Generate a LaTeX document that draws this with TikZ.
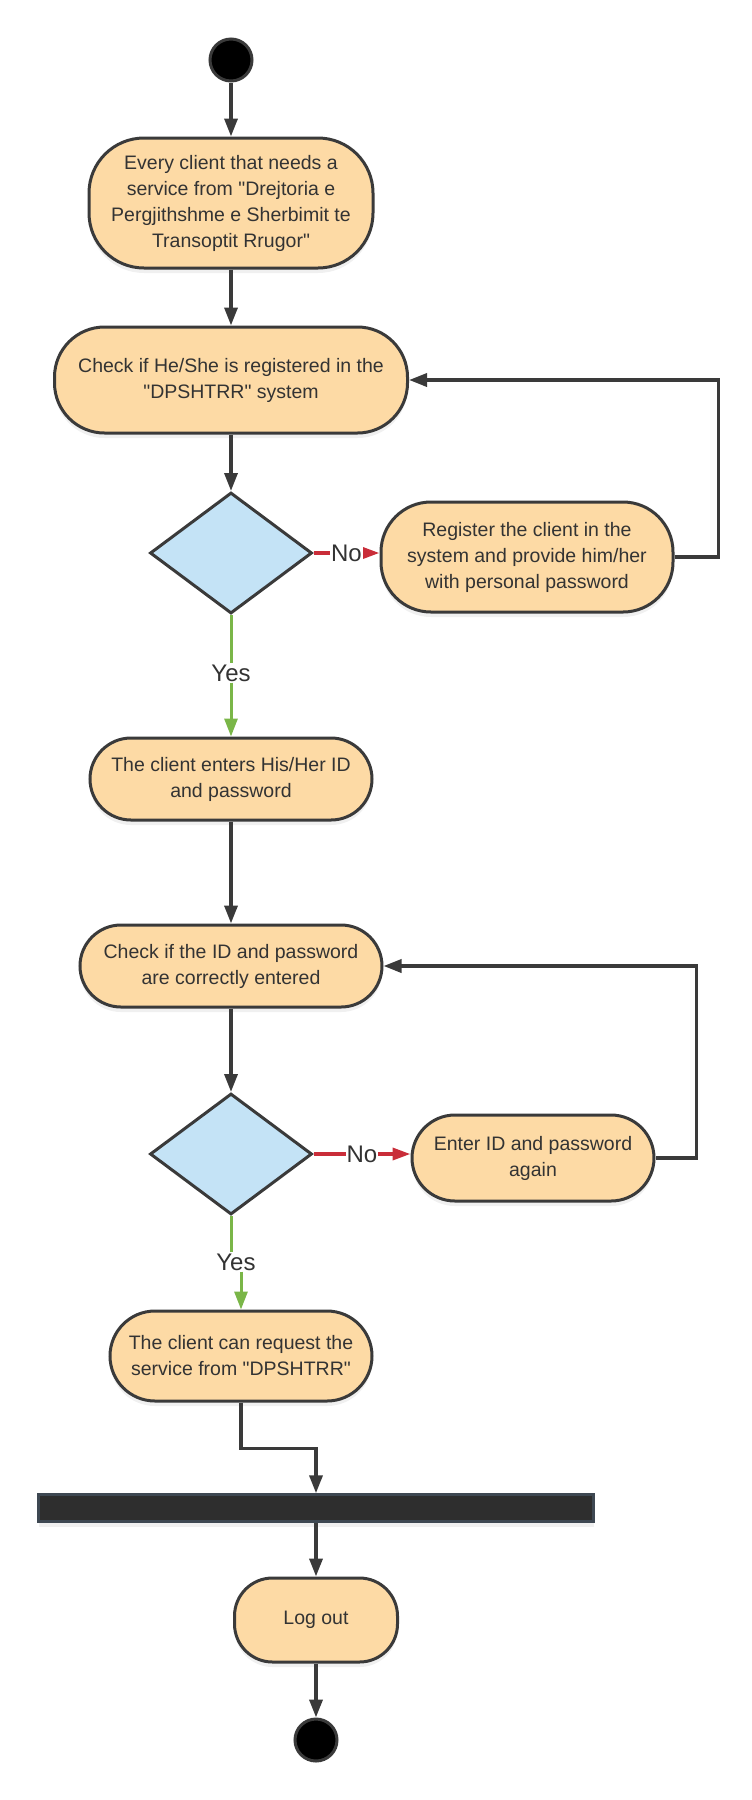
\documentclass[tikz,border=0pt]{standalone}
\usepackage{fontspec}
\setmainfont{Liberation Sans}
\usetikzlibrary{arrows.meta,shapes.geometric,shadows}
\definecolor{peach}{HTML}{FDDAA5}
\definecolor{lightblue}{HTML}{C4E3F6}
\definecolor{edge}{HTML}{3A3A3A}
\definecolor{ink}{HTML}{333333}
\definecolor{nored}{HTML}{C92D39}
\definecolor{yesgreen}{HTML}{7AB648}
\definecolor{barfill}{HTML}{2E2E2E}
\definecolor{barline}{HTML}{3E4852}
\newcommand{\qq}{\textquotedbl}
\begin{document}
\begin{tikzpicture}[x=1pt, y=-1pt,
        action/.style={draw=edge, line width=3pt, fill=peach, rounded corners=#1, align=center, text=ink,
            font=\fontsize{19.5}{26}\selectfont, inner sep=0pt,
            drop shadow={shadow xshift=0pt, shadow yshift=-5pt, opacity=0.12}},
        decision/.style={diamond, draw=edge, line width=3pt, fill=lightblue, minimum width=162pt,
            minimum height=121pt, inner sep=0pt},
        dot/.style={circle, fill=black, draw=edge, line width=3pt, minimum size=42pt, inner sep=0pt},
        flow/.style={draw=edge, line width=3.5pt, -{Triangle[length=18pt,width=13pt]}},
        no/.style={draw=nored, line width=3.5pt, -{Triangle[length=18pt,width=12pt]}},
        yes/.style={draw=yesgreen, line width=3pt},
        lbl/.style={font=\fontsize{24}{28}\selectfont, text=ink, fill=white, inner sep=1pt}]
        \useasboundingbox (0,0) rectangle (752,1800);
        \node[dot] (start) at (231,60) {};
        \node[action=55pt, minimum width=284pt, minimum height=130pt] (client) at (231,203)
            {Every client that needs a\\service from \qq Drejtoria e\\Pergjithshme e Sherbimit te\\Transoptit Rrugor\qq};
        \node[action=50pt, minimum width=353pt, minimum height=106pt] (check) at (231,380)
            {Check if He/She is registered in the\\\qq DPSHTRR\qq{} system};
        \node[decision] (dec1) at (231,553) {};
        \node[action=50pt, minimum width=292pt, minimum height=110pt] (register) at (527,557)
            {Register the client in the\\system and provide him/her\\with personal password};
        \node[lbl] (yes1) at (231,673) {Yes};
        \node[action=41pt, minimum width=282pt, minimum height=82pt] (enter) at (231,779)
            {The client enters His/Her ID\\and password};
        \node[action=41pt, minimum width=302pt, minimum height=82pt] (verify) at (231,966)
            {Check if the ID and password\\are correctly entered};
        \node[decision] (dec2) at (231,1154) {};
        \node[action=43pt, minimum width=242pt, minimum height=86pt] (again) at (533,1158)
            {Enter ID and password\\again};
        \node[lbl] (yes2) at (236,1262) {Yes};
        \node[action=45pt, minimum width=262pt, minimum height=90pt] (request) at (241,1356)
            {The client can request the\\service from \qq DPSHTRR\qq};
        \node[rectangle, fill=barfill, draw=barline, line width=2.5pt, minimum width=555pt, minimum height=27pt,
            drop shadow={shadow xshift=0pt, shadow yshift=-5pt, opacity=0.12}] (bar) at (316,1508) {};
        \node[action=38pt, minimum width=163pt, minimum height=84pt] (logout) at (316,1620) {Log out};
        \node[dot] (stop) at (316,1740) {};

        \draw[flow] (start) -- (client);
        \draw[flow] (client) -- (check);
        \draw[flow] (check) -- (dec1);
        \draw[no] (dec1.east) -- node[lbl] {No} (dec1.east -| register.west);
        \draw[flow] (register.east) -- ++(44,0) |- (check.east);
        \draw[yes] (dec1.south) -- (dec1.south |- yes1.north);
        \draw[yes, -{Triangle[length=18pt,width=13pt]}] (enter.north |- yes1.south) -- (enter.north);
        \draw[flow] (enter) -- (verify);
        \draw[flow] (verify) -- (dec2);
        \draw[no] (dec2.east) -- node[lbl] {No} (dec2.east -| again.west);
        \draw[flow] (again.east) -- ++(41,0) |- (verify.east);
        \draw[yes] (dec2.south) -- (dec2.south |- yes2.north);
        \draw[yes, -{Triangle[length=18pt,width=13pt]}] (request.north |- yes2.south) -- (request.north);
        \draw[flow] (request.south) -- ++(0,46) -| (bar.north);
        \draw[flow] (bar) -- (logout);
        \draw[flow] (logout) -- (stop);
    \end{tikzpicture}
\end{document}
